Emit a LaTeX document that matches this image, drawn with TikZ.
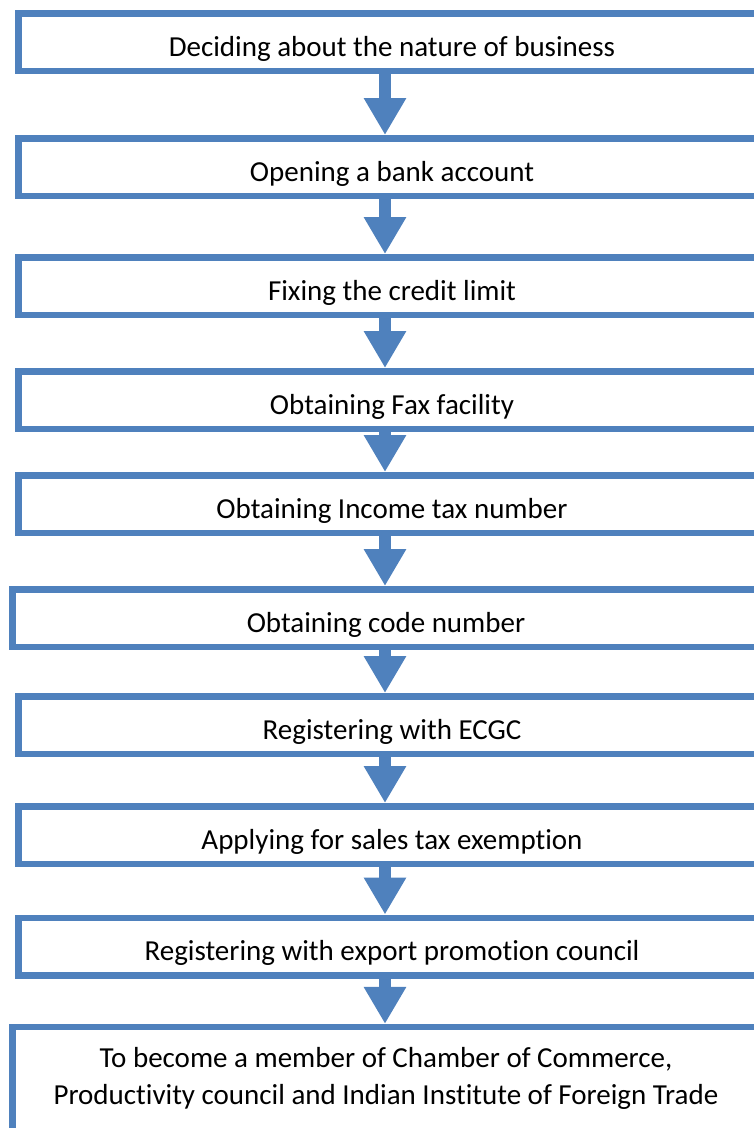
\documentclass[tikz,border=0pt]{standalone}
\usepackage{fontspec}
\setmainfont{Carlito}[Ligatures=NoCommon]
\usepackage{tikz}
\usetikzlibrary{arrows.meta}
\definecolor{boxblue}{HTML}{4F81BD}
\tikzset{
  stepbox/.style={draw=boxblue, line width=6.5pt, fill=white, minimum width=747.5pt,
    minimum height=57.5pt, inner sep=0pt, text height=28pt, text depth=0pt,
    font=\fontsize{29}{37}\selectfont},
  flow/.style={-{Triangle[length=37pt,width=40pt]}, line width=12pt, boxblue},
}
\begin{document}
\begin{tikzpicture}[x=1pt,y=-1pt]
  \useasboundingbox (0,0) rectangle (754,1128);
  \coordinate (axis) at (385,0);
  \node[stepbox] (nature) at (392,42) {Deciding about the nature of business};
  \node[stepbox] (bank) at (392,167) {Opening a bank account};
  \node[stepbox] (credit) at (392,286) {Fixing the credit limit};
  \node[stepbox] (fax) at (392,400) {Obtaining Fax facility};
  \node[stepbox] (incometax) at (392,504) {Obtaining Income tax number};
  \node[stepbox] (code) at (386,618) {Obtaining code number};
  \node[stepbox] (ecgc) at (392,725) {Registering with ECGC};
  \node[stepbox] (salestax) at (392,835) {Applying for sales tax exemption};
  \node[stepbox] (epc) at (392,946.5) {Registering with export promotion council};
  \node[stepbox, align=center, minimum height=125pt, text height=58.8pt, text depth=30pt]
    (member) at (386,1089.6) {To become a member of Chamber of Commerce,\\Productivity council and Indian Institute of Foreign Trade};
  % arrows down the middle
  \draw[flow] (nature.south -| axis) -- (bank.north -| axis);
  \draw[flow] (bank.south -| axis) -- (credit.north -| axis);
  \draw[flow] (credit.south -| axis) -- (fax.north -| axis);
  \draw[flow] (fax.south -| axis) -- (incometax.north -| axis);
  \draw[flow] (incometax.south -| axis) -- (code.north -| axis);
  \draw[flow] (code.south -| axis) -- (ecgc.north -| axis);
  \draw[flow] (ecgc.south -| axis) -- (salestax.north -| axis);
  \draw[flow] (salestax.south -| axis) -- (epc.north -| axis);
  \draw[flow] (epc.south -| axis) -- (member.north -| axis);
\end{tikzpicture}
\end{document}
